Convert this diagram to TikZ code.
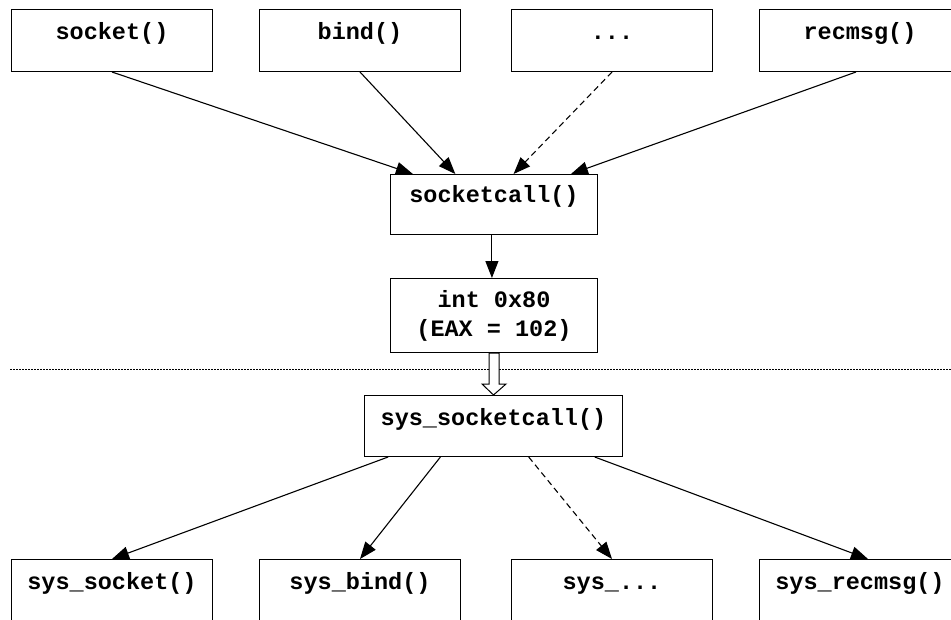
\documentclass[tikz,border=0pt]{standalone}
\usepackage{fontspec}
\setmonofont{Liberation Mono}
\usetikzlibrary{arrows.meta,calc}
\begin{document}
\begin{tikzpicture}[x=1pt,y=-1pt,
  box/.style={draw,line width=1pt,rectangle,inner sep=0pt,anchor=north west,
    font=\ttfamily\bfseries\fontsize{23.5}{29}\selectfont},
  topbox/.style={box,minimum width=201pt,text height=30pt,text depth=32pt},
  arr/.style={line width=1.1pt,-{Triangle[length=17pt,width=13pt]}},
  darr/.style={arr,dash pattern=on 6pt off 4pt},
  sep/.style={line width=1pt,dash pattern=on 1.5pt off 1.5pt},
  hollow/.style={draw,fill=white,line width=1pt,line join=miter}]
\useasboundingbox (0,0) rectangle (951,619);
\clip (0,0) rectangle (951,619);
% top row
\node[topbox] (socket) at (11,9) {socket()};
\node[topbox] (bind) at (259,9) {bind()};
\node[topbox] (dots) at (511,9) {...};
\node[topbox] (recmsg) at (759,9) {recmsg()};
% middle
\node[box,minimum width=207pt,text height=28pt,text depth=32pt] (sc) at (390,174) {socketcall()};
\node[box,minimum width=207pt,minimum height=74pt,align=center] (int) at (390,278) {int 0x80\\(EAX = 102)};
\node[box,minimum width=258pt,text height=30pt,text depth=31pt] (ssc) at (364,395) {sys\_socketcall()};
% bottom row
\node[topbox] (ssocket) at (11,559) {sys\_socket()};
\node[topbox] (sbind) at (259,559) {sys\_bind()};
\node[topbox] (sdots) at (511,559) {sys\_...};
\node[topbox] (srecmsg) at (759,559) {sys\_recmsg()};
% separator
\coordinate (sepL) at (10,369);
\coordinate (sepR) at (951,369);
\draw[sep] (sepL) -- (sepR);
% top arrows
\draw[arr] (socket.south) -- ($(sc.north west)!0.11!(sc.north east)$);
\draw[arr] (bind.south) -- ($(sc.north west)!0.314!(sc.north east)$);
\draw[darr] (dots.south) -- ($(sc.north west)!0.594!(sc.north east)$);
\draw[arr] ($(recmsg.south)+(-4,0)$) -- ($(sc.north west)!0.87!(sc.north east)$);
\draw[arr] ($(sc.south west)!0.49!(sc.south east)$) -- ($(int.north west)!0.49!(int.north east)$);
% hollow arrow
\draw[hollow] ($(int.south)+(-5,0)$) -- ($(int.south)+(-5,31)$) -- ($(int.south)+(-12,31)$)
  -- (ssc.north) -- ($(int.south)+(12,31)$) -- ($(int.south)+(5,31)$) -- ($(int.south)+(5,0)$) -- cycle;
% bottom arrows
\draw[arr] ($(ssc.south west)!0.093!(ssc.south east)$) -- (ssocket.north);
\draw[arr] ($(ssc.south west)!0.295!(ssc.south east)$) -- (sbind.north);
\draw[darr] ($(ssc.south west)!0.636!(ssc.south east)$) -- (sdots.north);
\draw[arr] ($(ssc.south west)!0.891!(ssc.south east)$) -- ($(srecmsg.north)+(8,0)$);
\end{tikzpicture}
\end{document}
